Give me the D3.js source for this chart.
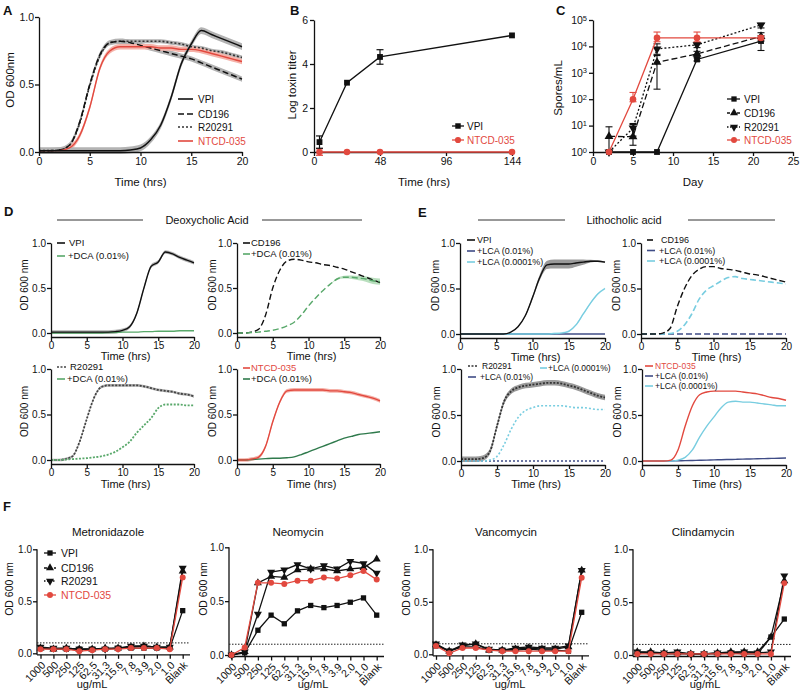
<!DOCTYPE html>
<html><head><meta charset="utf-8">
<script src="https://cdn.jsdelivr.net/npm/d3@7"></script>
<style>
body{margin:0;background:#fff;}
svg{font-family:"Liberation Sans",Arial,sans-serif;}
</style></head><body>
<svg id="fig" width="800" height="691"></svg>
<script>
// ---------------- DATA ----------------
const hours = [0,1,2,3,4,5,6,7,8,9,10,11,12,13,14,15,16,17,18,19,20];
const growthXTicks = [0,5,10,15,20];
const odYTicks = [0,0.5,1.0];

// Panel A
const A_VPI    = [0.01,0.01,0.01,0.01,0.01,0.01,0.01,0.01,0.01,0.015,0.03,0.09,0.2,0.4,0.65,0.8,0.9,0.87,0.84,0.81,0.78];
const A_CD196  = [0.01,0.01,0.015,0.05,0.22,0.5,0.72,0.81,0.82,0.81,0.79,0.77,0.75,0.73,0.71,0.69,0.66,0.63,0.6,0.57,0.54];
const A_R20291 = [0.01,0.01,0.015,0.05,0.21,0.49,0.71,0.81,0.82,0.82,0.82,0.82,0.82,0.81,0.8,0.78,0.77,0.75,0.74,0.72,0.7];
const A_NTCD   = [0.01,0.01,0.01,0.03,0.12,0.33,0.62,0.75,0.78,0.78,0.78,0.78,0.77,0.77,0.76,0.76,0.75,0.73,0.71,0.69,0.67];
const A_sd     = [0.025,0.02,0.015,0.02];

// Panel B
const B_hours   = [4,24,48,144];
const B_xTicks  = [0,48,96,144];
const B_yTicks  = [0,2,4,6];
const B_VPI     = [0.45,3.15,4.32,5.3];
const B_VPI_err = [0.28,0.05,0.33,0.05];
const B_NTCD    = [0,0,0,0];
const B_NTCD_err= [0.15,0,0,0];

// Panel C
const C_days   = [2,5,8,13,21];
const C_xTicks = [0,5,10,15,20,25];
const C_yTicks = [1,10,100,1000,10000,100000];
const C_VPI      = [1,1,1,3200,16000];
const C_VPI_lo   = [1,1,1,2800,7000];
const C_VPI_hi   = [1,1,1,3700,25000];
const C_CD196    = [3.9,3.8,2500,5200,24000];
const C_CD196_lo = [1,1.8,240,4200,16000];
const C_CD196_hi = [9,12,4500,6500,33000];
const C_R20291   = [1,8,8000,11500,65000];
const C_R20291_lo= [1,4,5000,9000,50000];
const C_R20291_hi= [1,11,12500,14000,75000];
const C_NTCD     = [1,100,21000,21000,21000];
const C_NTCD_lo  = [1,80,15000,15000,18000];
const C_NTCD_hi  = [1,180,35000,35000,25000];

// Panel D (DCA)
const D_VPI        = [0.01,0.01,0.01,0.01,0.01,0.01,0.01,0.01,0.01,0.015,0.03,0.07,0.22,0.5,0.74,0.79,0.9,0.88,0.84,0.81,0.78];
const D_VPI_DCA    = [0,0,0,0,0,0,0,0,0.005,0.005,0.01,0.01,0.01,0.015,0.015,0.02,0.02,0.02,0.025,0.025,0.025];
const D_CD196      = [0,0,0.01,0.04,0.2,0.5,0.7,0.8,0.82,0.81,0.79,0.78,0.76,0.75,0.73,0.71,0.68,0.65,0.62,0.59,0.56];
const D_CD196_DCA  = [0,0,0.005,0.01,0.02,0.03,0.05,0.08,0.12,0.2,0.3,0.39,0.47,0.54,0.6,0.62,0.62,0.61,0.6,0.58,0.57];
const D_CD196_DCA_sd = [0,0,0,0,0,0,0,0,0,0,0,0,0,0,0.01,0.015,0.02,0.025,0.03,0.035,0.035];
const D_R20291     = [0,0,0.01,0.04,0.2,0.45,0.68,0.8,0.82,0.82,0.82,0.82,0.82,0.81,0.79,0.77,0.76,0.75,0.73,0.72,0.7];
const D_R20291_DCA = [0,0,0.005,0.01,0.015,0.02,0.03,0.04,0.06,0.09,0.14,0.2,0.3,0.38,0.46,0.57,0.61,0.61,0.61,0.6,0.6];
const D_NTCD       = [0,0,0.01,0.03,0.15,0.42,0.64,0.76,0.77,0.77,0.77,0.77,0.77,0.76,0.76,0.75,0.74,0.72,0.7,0.68,0.65];
const D_NTCD_DCA   = [0,0,0.005,0.01,0.015,0.02,0.02,0.025,0.035,0.06,0.09,0.12,0.15,0.18,0.21,0.24,0.26,0.28,0.29,0.3,0.31];

// Panel E (LCA)
const E_VPI         = [0,0,0,0,0,0,0,0.02,0.08,0.2,0.4,0.62,0.76,0.77,0.77,0.77,0.78,0.79,0.8,0.8,0.79];
const E_VPI_sd      = [0,0,0,0,0,0,0,0,0.005,0.01,0.02,0.03,0.045,0.05,0.05,0.05,0.04,0.03,0.015,0.01,0.01];
const E_VPI_LCA1    = [0,0,0,0,0,0,0,0,0,0,0,0,0,0,0,0,0,0,0,0,0];
const E_VPI_LCA2    = [0,0,0,0,0,0,0,0,0,0,0,0,0,0.005,0.01,0.03,0.1,0.22,0.34,0.44,0.5];
const E_CD196       = [0,0,0,0.01,0.06,0.3,0.5,0.64,0.71,0.74,0.74,0.72,0.71,0.7,0.68,0.66,0.65,0.63,0.61,0.59,0.57];
const E_CD196_LCA1  = [0,0,0,0,0,0,0,0,0,0,0,0,0,0,0,0,0,0,0,0,0];
const E_CD196_LCA2  = [0,0,0,0,0.005,0.03,0.1,0.22,0.38,0.48,0.53,0.58,0.62,0.63,0.61,0.6,0.59,0.58,0.57,0.56,0.55];
const E_R20291      = [0.02,0.02,0.02,0.03,0.1,0.38,0.65,0.76,0.8,0.82,0.83,0.84,0.85,0.85,0.84,0.82,0.8,0.77,0.74,0.71,0.69];
const E_R20291_LCA1 = [0,0,0,0,0,0,0,0,0,0,0,0,0,0,0,0,0,0,0,0,0];
const E_R20291_LCA2 = [0,0,0,0,0.01,0.05,0.18,0.35,0.48,0.55,0.58,0.6,0.6,0.6,0.6,0.59,0.58,0.58,0.57,0.56,0.56];
const E_NTCD        = [0,0,0,0,0.01,0.12,0.38,0.6,0.72,0.75,0.76,0.76,0.76,0.76,0.75,0.74,0.73,0.71,0.69,0.68,0.66];
const E_NTCD_LCA1   = [0,0,0,0,0,0.002,0.004,0.006,0.008,0.01,0.012,0.014,0.016,0.018,0.02,0.022,0.024,0.026,0.028,0.03,0.033];
const E_NTCD_LCA2   = [0,0,0,0,0,0.01,0.04,0.12,0.26,0.38,0.48,0.58,0.64,0.65,0.64,0.64,0.63,0.62,0.61,0.6,0.6];

// Panel F (MIC)
const F_conc = ["1000","500","250","125","62.5","31.3","15.6","7.8","3.9","2.0","1.0","Blank"];
const F_threshold = 0.1;
const F_strains = ["VPI","CD196","R20291","NTCD-035"];
const F_metro_VPI   = [0.05,0.04,0.04,0.04,0.04,0.04,0.05,0.05,0.05,0.05,0.05,0.41];
const F_metro_CD196 = [0.05,0.04,0.05,0.04,0.04,0.05,0.05,0.06,0.07,0.06,0.06,0.79];
const F_metro_R20291= [0.06,0.05,0.05,0.04,0.04,0.04,0.05,0.07,0.07,0.06,0.06,0.82];
const F_metro_NTCD  = [0.04,0.04,0.04,0.02,0.03,0.04,0.04,0.05,0.05,0.05,0.04,0.73];
const F_neo_VPI     = [0,0.02,0.23,0.37,0.29,0.41,0.46,0.44,0.46,0.49,0.53,0.37];
const F_neo_CD196   = [0,0.03,0.67,0.73,0.72,0.79,0.8,0.8,0.78,0.8,0.81,0.89];
const F_neo_R20291  = [0,0.03,0.38,0.77,0.79,0.84,0.8,0.83,0.8,0.87,0.85,0.76];
const F_neo_NTCD    = [0,0.07,0.67,0.67,0.66,0.69,0.69,0.72,0.71,0.74,0.78,0.7];
const F_vanco_VPI   = [0.08,0.03,0.07,0.07,0.04,0.04,0.04,0.05,0.04,0.04,0.03,0.4];
const F_vanco_CD196 = [0.09,0.03,0.08,0.1,0.04,0.04,0.05,0.06,0.05,0.05,0.07,0.8];
const F_vanco_R20291= [0.1,0.03,0.09,0.1,0.05,0.04,0.06,0.07,0.06,0.06,0.08,0.8];
const F_vanco_NTCD  = [0.08,0.01,0.06,0.06,0.04,0.03,0.03,0.03,0.03,0.03,0.03,0.73];
const F_clinda_VPI  = [0.02,0.02,0.01,0.01,0.01,0.01,0.01,0.02,0.01,0.01,0.17,0.34];
const F_clinda_CD196= [0.03,0.03,0.02,0.02,0.01,0.01,0.02,0.03,0.03,0.03,0.17,0.7];
const F_clinda_R20291=[0.03,0.02,0.02,0.03,0.01,0.01,0.02,0.02,0.03,0.02,0.03,0.75];
const F_clinda_NTCD = [0.01,0.01,0.01,0.01,0.01,0.01,0.01,0.01,0.01,0.01,0.01,0.68];

// ---------------- STYLE ----------------
const BLACK="#111", RED="#e2493f", REDBAND="#f5b3aa", GREYBAND="#b3b3b3";
const GREEN="#58a86a", GREENBAND="#b9dfbe", DKGREEN="#2f7a4c";
const NAVY="#3f4c86", CYAN="#78cde0";
const svg = d3.select("#fig");

function styleAxis(sel, fs){
  sel.attr("font-family",null).attr("font-size",null);
  sel.select(".domain").attr("stroke",BLACK).attr("stroke-width",1.3);
  sel.selectAll(".tick line").attr("stroke",BLACK).attr("stroke-width",1.3);
  sel.selectAll(".tick text").attr("fill",BLACK).attr("font-size",fs);
}
function txt(g,x,y,s,o={}){
  return g.append("text").attr("x",x).attr("y",y).text(s)
    .attr("font-size",o.fs||11).attr("text-anchor",o.anchor||"start")
    .attr("fill",o.fill||BLACK).attr("font-weight",o.fw||"normal");
}
function vtxt(g,cx,cy,s,fs){
  return g.append("text").attr("transform",`translate(${cx},${cy}) rotate(-90)`)
    .attr("text-anchor","middle").attr("dy","0.35em").attr("font-size",fs).attr("fill",BLACK).text(s);
}
function letter(x,y,s){ txt(svg,x,y,s,{fs:13,fw:"bold"}); }

// ---------------- growth curve panel ----------------
function growthPanel(c){
  const g = svg.append("g");
  const off = c.off||0;
  const span = c.y0 - c.yT;
  const x = d3.scaleLinear().domain([0,20]).range([c.xL,c.xR]);
  const y = d3.scaleLinear().domain([-off/span,1]).range([c.y0+off,c.yT]);
  c.series.forEach(s=>{
    if(s.sd){
      const sdv = i => Array.isArray(s.sd)? s.sd[i] : s.sd;
      const area = d3.area().x((d,i)=>x(hours[i])).y0((d,i)=>y(d-sdv(i))).y1((d,i)=>y(d+sdv(i))).curve(d3.curveMonotoneX);
      g.append("path").attr("d",area(s.v)).attr("fill",s.band);
    }
  });
  c.series.forEach(s=>{
    const line = d3.line().x((d,i)=>x(hours[i])).y(d=>y(d)).curve(d3.curveMonotoneX);
    g.append("path").attr("d",line(s.v)).attr("fill","none").attr("stroke",s.color)
      .attr("stroke-width",s.w||1.4).attr("stroke-dasharray",s.dash||null);
  });
  const fs = c.fs||10;
  const xa = g.append("g").attr("transform",`translate(0,${c.y0+off})`)
    .call(d3.axisBottom(x).tickValues(growthXTicks).tickSize(4).tickSizeOuter(0).tickPadding(c.tp??1));
  styleAxis(xa,fs);
  const ya = g.append("g").attr("transform",`translate(${c.xL},0)`)
    .call(d3.axisLeft(y).tickValues(odYTicks).tickFormat(d3.format(".1f")).tickSize(4).tickSizeOuter(0).tickPadding(1));
  styleAxis(ya,fs);
  txt(g,(c.xL+c.xR)/2+(c.xlDx??3),c.y0+off+c.xlDy,"Time (hrs)",{fs:c.tfs||11,anchor:"middle"});
  vtxt(g,c.ylx,c.yly??((c.yT+c.y0)/2-3),c.ylabel||"OD 600 nm",c.yfs||10);
  (c.legend||[]).forEach(l=>{
    g.append("line").attr("x1",l.x).attr("x2",l.x+(l.len||8)).attr("y1",l.y).attr("y2",l.y)
      .attr("stroke",l.color).attr("stroke-width",l.w||1.6).attr("stroke-dasharray",l.dash||null);
    txt(g,l.x+(l.len||8)+(l.gap??2),l.y,l.label,{fs:l.fs||9.5,fill:l.tc||BLACK}).attr("dy","0.35em");
  });
}

// ---------------- Panel A ----------------
letter(3,15,"A");
growthPanel({xL:39,xR:242,yT:17,y0:152,off:0,fs:10.5,tp:2,xlDx:0,xlDy:34,tfs:11.5,yfs:11.5,ylx:10,yly:80,ylabel:"OD 600nm",
  series:[
    {v:A_R20291,color:"#333",dash:"2,2",w:1.6,sd:A_sd[2],band:GREYBAND},
    {v:A_CD196,color:BLACK,dash:"6,3",w:1.5,sd:A_sd[1],band:GREYBAND},
    {v:A_NTCD,color:RED,w:1.4,sd:A_sd[3],band:REDBAND},
    {v:A_VPI,color:BLACK,w:1.5,sd:A_sd[0],band:GREYBAND}
  ],
  legend:[
    {label:"VPI",x:178,y:99,len:15,gap:5,color:BLACK,fs:10},
    {label:"CD196",x:178,y:114,len:15,gap:5,color:BLACK,dash:"6,3",fs:10},
    {label:"R20291",x:178,y:127,len:15,gap:5,color:"#333",dash:"2,2",fs:10},
    {label:"NTCD-035",x:178,y:141,len:15,gap:5,color:RED,tc:RED,fs:10}
  ]});

// ---------------- Panel B ----------------
letter(290,15,"B");
(function(){
  const g = svg.append("g");
  const x = d3.scaleLinear().domain([0,144]).range([314,512]);
  const y = d3.scaleLinear().domain([0,6]).range([152,20]);
  const xa = g.append("g").attr("transform","translate(0,152)")
    .call(d3.axisBottom(x).tickValues(B_xTicks).tickSize(4).tickSizeOuter(0).tickPadding(2));
  styleAxis(xa,10.5);
  const ya = g.append("g").attr("transform","translate(314,0)")
    .call(d3.axisLeft(y).tickValues(B_yTicks).tickFormat(d3.format("d")).tickSize(4).tickSizeOuter(0).tickPadding(2));
  styleAxis(ya,10.5);
  txt(g,424,186,"Time (hrs)",{fs:11.5,anchor:"middle"});
  vtxt(g,292,85,"Log toxin titer",11.5);
  const line = d3.line().x((d,i)=>x(B_hours[i])).y(d=>y(d));
  const sets = [
    {v:B_NTCD,e:B_NTCD_err,color:RED,sym:d3.symbolCircle},
    {v:B_VPI,e:B_VPI_err,color:BLACK,sym:d3.symbolSquare}
  ];
  sets.forEach(s=>{
    g.append("path").attr("d",line(s.v)).attr("fill","none").attr("stroke",s.color).attr("stroke-width",1.3);
    s.v.forEach((v,i)=>{
      if(s.e[i]>0.06){
        const cx=x(B_hours[i]);
        g.append("line").attr("x1",cx).attr("x2",cx).attr("y1",y(v-s.e[i])).attr("y2",y(v+s.e[i])).attr("stroke",s.color).attr("stroke-width",1.2);
        [v-s.e[i],v+s.e[i]].forEach(b=>g.append("line").attr("x1",cx-3.5).attr("x2",cx+3.5).attr("y1",y(b)).attr("y2",y(b)).attr("stroke",s.color).attr("stroke-width",1.2));
      }
      g.append("path").attr("d",d3.symbol(s.sym,34)()).attr("transform",`translate(${x(B_hours[i])},${y(v)})`).attr("fill",s.color);
    });
  });
  [{l:"VPI",c:BLACK,sym:d3.symbolSquare,y:126},{l:"NTCD-035",c:RED,sym:d3.symbolCircle,y:140}].forEach(o=>{
    g.append("line").attr("x1",452).attr("x2",464).attr("y1",o.y).attr("y2",o.y).attr("stroke",o.c).attr("stroke-width",1.3);
    g.append("path").attr("d",d3.symbol(o.sym,30)()).attr("transform",`translate(458,${o.y})`).attr("fill",o.c);
    txt(g,467,o.y,o.l,{fs:10,fill:o.c}).attr("dy","0.35em");
  });
})();

// ---------------- Panel C ----------------
letter(556,15,"C");
(function(){
  const g = svg.append("g");
  const x = d3.scaleLinear().domain([0,25]).range([593,793]);
  const y = d3.scaleLog().domain([1,1e5]).range([152,20]);
  const xa = g.append("g").attr("transform","translate(0,152)")
    .call(d3.axisBottom(x).tickValues(C_xTicks).tickSize(4).tickSizeOuter(0).tickPadding(2));
  styleAxis(xa,10.5);
  const ya = g.append("g").attr("transform","translate(593,0)")
    .call(d3.axisLeft(y).tickValues(C_yTicks).tickSize(4).tickSizeOuter(0).tickPadding(2));
  styleAxis(ya,10.5);
  ya.selectAll(".tick text").each(function(d){
    const t=d3.select(this); const e=Math.round(Math.log10(d));
    t.text(null); t.append("tspan").text("10"); t.append("tspan").attr("dy","-0.45em").attr("font-size",7.5).text(e);
  });
  txt(g,693,186,"Day",{fs:11.5,anchor:"middle"});
  vtxt(g,558,88,"Spores/mL",11.5);
  const sets = [
    {v:C_VPI,lo:C_VPI_lo,hi:C_VPI_hi,color:BLACK,dash:null,sym:d3.symbolSquare,rot:0},
    {v:C_CD196,lo:C_CD196_lo,hi:C_CD196_hi,color:BLACK,dash:"6,3",sym:d3.symbolTriangle,rot:0},
    {v:C_R20291,lo:C_R20291_lo,hi:C_R20291_hi,color:BLACK,dash:"2,2",sym:d3.symbolTriangle,rot:180},
    {v:C_NTCD,lo:C_NTCD_lo,hi:C_NTCD_hi,color:RED,dash:null,sym:d3.symbolCircle,rot:0}
  ];
  const line = d3.line().x((d,i)=>x(C_days[i])).y(d=>y(d));
  sets.forEach(s=>{
    g.append("path").attr("d",line(s.v)).attr("fill","none").attr("stroke",s.color).attr("stroke-width",1.3).attr("stroke-dasharray",s.dash);
    s.v.forEach((v,i)=>{
      const cx=x(C_days[i]);
      if(s.hi[i]!==s.lo[i]){
        g.append("line").attr("x1",cx).attr("x2",cx).attr("y1",y(s.lo[i])).attr("y2",y(s.hi[i])).attr("stroke",s.color).attr("stroke-width",1.1);
        [s.lo[i],s.hi[i]].forEach(b=>g.append("line").attr("x1",cx-3.5).attr("x2",cx+3.5).attr("y1",y(b)).attr("y2",y(b)).attr("stroke",s.color).attr("stroke-width",1.1));
      }
      g.append("path").attr("d",d3.symbol(s.sym,34)()).attr("transform",`translate(${cx},${y(v)}) rotate(${s.rot})`).attr("fill",s.color);
    });
  });
  const leg = [
    {l:"VPI",c:BLACK,dash:null,sym:d3.symbolSquare,rot:0,y:99},
    {l:"CD196",c:BLACK,dash:"3,2",sym:d3.symbolTriangle,rot:0,y:113},
    {l:"R20291",c:BLACK,dash:"1.5,1.5",sym:d3.symbolTriangle,rot:180,y:127},
    {l:"NTCD-035",c:RED,dash:null,sym:d3.symbolCircle,rot:0,y:140}
  ];
  leg.forEach(o=>{
    g.append("line").attr("x1",727).attr("x2",740).attr("y1",o.y).attr("y2",o.y).attr("stroke",o.c).attr("stroke-width",1.3).attr("stroke-dasharray",o.dash);
    g.append("path").attr("d",d3.symbol(o.sym,28)()).attr("transform",`translate(734,${o.y}) rotate(${o.rot})`).attr("fill",o.c);
    txt(g,744,o.y,o.l,{fs:10,fill:o.c}).attr("dy","0.35em");
  });
})();

// ---------------- Panel D ----------------
letter(4,216,"D");
(function(){
  const g = svg.append("g");
  txt(g,207,224,"Deoxycholic Acid",{fs:11,anchor:"middle"});
  g.append("line").attr("x1",57).attr("x2",143).attr("y1",220).attr("y2",220).attr("stroke","#333").attr("stroke-width",1);
  g.append("line").attr("x1",262).attr("x2",362).attr("y1",220).attr("y2",220).attr("stroke","#333").attr("stroke-width",1);
})();
growthPanel({xL:51,xR:194,yT:243,y0:333,off:4,xlDy:23,ylx:24,
  series:[{v:D_VPI_DCA,color:GREEN},{v:D_VPI,color:BLACK,sd:0.02,band:GREYBAND}],
  legend:[{label:"VPI",x:57,y:243,len:8,gap:4,color:BLACK},{label:"+DCA (0.01%)",x:57,y:256,len:8,gap:3,color:GREEN}]});
growthPanel({xL:237,xR:380,yT:243,y0:333,off:4,xlDy:23,ylx:212,
  series:[{v:D_CD196,color:BLACK,dash:"6,3"},{v:D_CD196_DCA,color:GREEN,dash:"6,3",sd:D_CD196_DCA_sd,band:GREENBAND}],
  legend:[{label:"CD196",x:243,y:243,len:7,gap:1,color:BLACK},{label:"+DCA (0.01%)",x:243,y:254,len:7,gap:1,color:GREEN}]});
growthPanel({xL:51,xR:194,yT:369,y0:460,off:4,xlDy:24,ylx:24,
  series:[{v:D_R20291,color:"#444",dash:"2,1.5",w:1.8,sd:0.015,band:GREYBAND},{v:D_R20291_DCA,color:GREEN,dash:"2,1.5",w:1.8}],
  legend:[{label:"R20291",x:57,y:367,len:10,gap:3,color:"#444",dash:"2,1.5"},{label:"+DCA (0.01%)",x:57,y:379,len:8,gap:2,color:GREEN}]});
growthPanel({xL:237,xR:380,yT:369,y0:460,off:4,xlDy:24,ylx:212,
  series:[{v:D_NTCD_DCA,color:DKGREEN},{v:D_NTCD,color:RED,sd:0.02,band:REDBAND}],
  legend:[{label:"NTCD-035",x:243,y:368,len:7,gap:1,color:RED,tc:RED},{label:"+DCA (0.01%)",x:243,y:379,len:7,gap:1,color:DKGREEN}]});

// ---------------- Panel E ----------------
letter(418,217,"E");
(function(){
  const g = svg.append("g");
  txt(g,624,224,"Lithocholic acid",{fs:11,anchor:"middle"});
  g.append("line").attr("x1",478).attr("x2",565).attr("y1",220).attr("y2",220).attr("stroke","#333").attr("stroke-width",1);
  g.append("line").attr("x1",688).attr("x2",775).attr("y1",220).attr("y2",220).attr("stroke","#333").attr("stroke-width",1);
})();
growthPanel({xL:460,xR:605,yT:243,y0:334,off:4,xlDy:23,ylx:435,
  series:[{v:E_VPI_LCA1,color:NAVY},{v:E_VPI_LCA2,color:CYAN,sd:0.01,band:"#cdeef5"},{v:E_VPI,color:BLACK,sd:E_VPI_sd,band:"#9a9a9a"}],
  legend:[{label:"VPI",x:467,y:240,len:8,gap:2,color:BLACK,fs:9},{label:"+LCA (0.01%)",x:467,y:251,len:8,gap:2,color:NAVY,fs:9},{label:"+LCA (0.0001%)",x:467,y:262,len:8,gap:2,color:CYAN,fs:9}]});
growthPanel({xL:641,xR:786,yT:243,y0:334,off:4,xlDy:23,ylx:616,
  series:[{v:E_CD196_LCA1,color:NAVY,dash:"6,3"},{v:E_CD196_LCA2,color:CYAN,dash:"6,3",w:1.6},{v:E_CD196,color:BLACK,dash:"6,3"}],
  legend:[{label:"CD196",x:647,y:240,len:8,gap:6,color:BLACK,dash:"6,3",fs:9},{label:"+LCA (0.01%)",x:647,y:250.5,len:8,gap:4,color:NAVY,fs:9},{label:"+LCA (0.0001%)",x:647,y:261,len:8,gap:4,color:CYAN,fs:9}]});
growthPanel({xL:461,xR:605,yT:369,y0:461,off:4,xlDy:23,ylx:436,
  series:[{v:E_R20291_LCA1,color:NAVY,dash:"2,2",w:1.6},{v:E_R20291_LCA2,color:CYAN,dash:"2,2",w:1.6},{v:E_R20291,color:"#333",dash:"2,1.5",w:1.8,sd:0.03,band:"#9a9a9a"}],
  legend:[{label:"R20291",x:468,y:366,len:10,gap:4,color:"#333",dash:"2,1.5",fs:8.5},{label:"+LCA (0.01%)",x:468,y:377,len:8,gap:4,color:NAVY,fs:8.5},{label:"+LCA (0.0001%)",x:540,y:368,len:7,gap:1,color:CYAN,fs:8.5}]});
growthPanel({xL:642,xR:786,yT:369,y0:461,off:4,xlDy:23,ylx:617,
  series:[{v:E_NTCD_LCA1,color:NAVY},{v:E_NTCD_LCA2,color:CYAN},{v:E_NTCD,color:RED}],
  legend:[{label:"NTCD-035",x:645,y:366,len:8,gap:2,color:RED,tc:RED,fs:8.5},{label:"+LCA (0.01%)",x:645,y:376,len:8,gap:2,color:NAVY,fs:8.5},{label:"+LCA (0.0001%)",x:645,y:386,len:8,gap:2,color:CYAN,fs:8.5}]});

// ---------------- Panel F ----------------
letter(3,511,"F");
const F_styles = [
  {color:BLACK,sym:d3.symbolSquare,rot:0,dash:null},
  {color:BLACK,sym:d3.symbolTriangle,rot:0,dash:"3,2"},
  {color:BLACK,sym:d3.symbolTriangle,rot:180,dash:"1.5,1.5"},
  {color:RED,sym:d3.symbolCircle,rot:0,dash:null}
];
function micPanel(c){
  const g = svg.append("g");
  const x = d3.scalePoint().domain(F_conc).range([c.x0,c.x1]);
  const y = d3.scaleLinear().domain([0,1]).range([c.y0,c.yT]);
  txt(g,c.tx,536,c.title,{fs:11.5,anchor:"middle"});
  const ya = g.append("g").attr("transform",`translate(${c.xL},0)`)
    .call(d3.axisLeft(y).tickValues(odYTicks).tickFormat(d3.format(".1f")).tickSize(4).tickSizeOuter(0).tickPadding(1));
  styleAxis(ya,10);
  ya.select(".domain").attr("d",`M0,${c.y0+1.5}V${c.yT}`);
  const xa = g.append("g").attr("transform",`translate(0,${c.y0+1.5})`)
    .call(d3.axisBottom(x).tickSize(4).tickSizeOuter(0).tickFormat(""));
  styleAxis(xa,10);
  xa.select(".domain").attr("d",`M${c.xL},0H${c.xEnd}`);
  F_conc.forEach(k=>{
    g.append("text").attr("transform",`translate(${x(k)+3},${c.y0+10}) rotate(-45)`)
      .attr("text-anchor","end").attr("dy","0.35em").attr("font-size",10.5).attr("fill",BLACK).text(k);
  });
  txt(g,c.ux,688,"ug/mL",{fs:11,anchor:"middle"});
  vtxt(g,c.ylx,589,"OD 600 nm",10.5);
  g.append("line").attr("x1",c.xL).attr("x2",c.xEnd).attr("y1",y(F_threshold)).attr("y2",y(F_threshold))
    .attr("stroke","#222").attr("stroke-width",1).attr("stroke-dasharray","1.5,1.5");
  const line = d3.line().x((d,i)=>x(F_conc[i])).y(d=>y(d));
  c.data.forEach((arr,si)=>{
    const st = F_styles[si];
    g.append("path").attr("d",line(arr)).attr("fill","none").attr("stroke",st.color).attr("stroke-width",1.3);
    arr.forEach((v,i)=>{
      g.append("path").attr("d",d3.symbol(st.sym,28)()).attr("transform",`translate(${x(F_conc[i])},${y(v)}) rotate(${st.rot})`).attr("fill",st.color);
    });
  });
  if(c.legend){
    const ly=[553,568,581,595];
    F_strains.forEach((s,i)=>{
      const st=F_styles[i];
      g.append("line").attr("x1",44).attr("x2",56).attr("y1",ly[i]).attr("y2",ly[i]).attr("stroke",st.color).attr("stroke-width",1.3).attr("stroke-dasharray",st.dash);
      g.append("path").attr("d",d3.symbol(st.sym,28)()).attr("transform",`translate(50,${ly[i]}) rotate(${st.rot})`).attr("fill",st.color);
      txt(g,61,ly[i],s,{fs:10.5,fill:st.color}).attr("dy","0.35em");
    });
  }
}
micPanel({title:"Metronidazole",tx:108,xL:37,x0:40.5,x1:182.7,xEnd:190,yT:549.3,y0:653.3,ux:92,ylx:9,legend:true,
  data:[F_metro_VPI,F_metro_CD196,F_metro_R20291,F_metro_NTCD]});
micPanel({title:"Neomycin",tx:298,xL:229,x0:231.5,x1:376.7,xEnd:384,yT:547.3,y0:655,ux:313,ylx:203,
  data:[F_neo_VPI,F_neo_CD196,F_neo_R20291,F_neo_NTCD]});
micPanel({title:"Vancomycin",tx:506,xL:433,x0:436,x1:581.7,xEnd:589,yT:549.3,y0:654.3,ux:510,ylx:406,
  data:[F_vanco_VPI,F_vanco_CD196,F_vanco_R20291,F_vanco_NTCD]});
micPanel({title:"Clindamycin",tx:703,xL:633,x0:637.3,x1:784.3,xEnd:791,yT:549.3,y0:655,ux:705,ylx:606,
  data:[F_clinda_VPI,F_clinda_CD196,F_clinda_R20291,F_clinda_NTCD]});
</script>
</body></html>
